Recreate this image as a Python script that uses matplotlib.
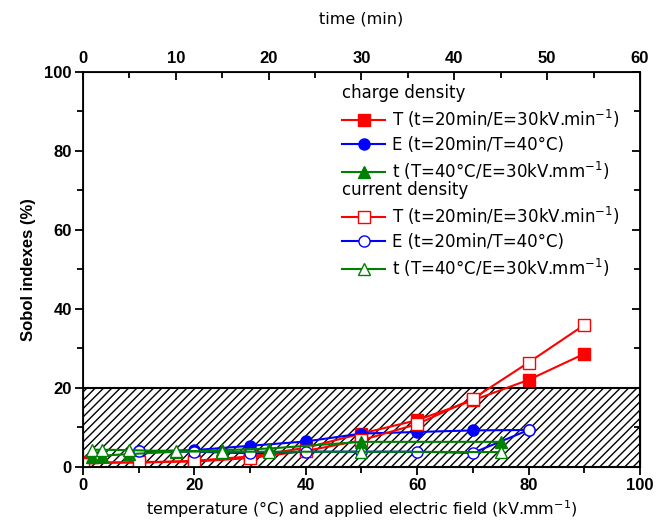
import numpy as np
import matplotlib
matplotlib.use('Agg')
import matplotlib.pyplot as plt
from matplotlib.ticker import MultipleLocator

# temperature / electric field series (bottom axis)
temp_x = [0, 10, 20, 30, 40, 50, 60, 70, 80, 90]
charge_T = [1.2, 1.0, 1.5, 2.6, 4.8, 8.4, 11.8, 16.8, 22.0, 28.6]
current_T = [0.8, 1.2, 1.3, 2.2, 4.0, 6.7, 10.8, 17.2, 26.4, 35.9]

field_x = [10, 20, 30, 40, 50, 60, 70, 80]
charge_E = [3.9, 4.2, 5.3, 6.4, 8.4, 8.8, 9.2, 9.3]
current_E = [4.0, 3.8, 3.4, 3.8, 3.8, 3.8, 3.5, 9.3]

# time series (top axis, minutes)
time_x = [1, 2, 5, 10, 15, 20, 30, 45]
charge_t = [2.5, 2.8, 3.2, 3.8, 4.2, 4.6, 6.3, 6.3]
current_t = [4.3, 4.3, 4.2, 3.9, 3.8, 3.8, 3.8, 3.7]

lbl_T = 'T (t=20min/E=30kV.min$^{-1}$)'
lbl_E = 'E (t=20min/T=40°C)'
lbl_t = 't (T=40°C/E=30kV.mm$^{-1}$)'

tick_font = {'family': 'Liberation Sans', 'weight': 'bold', 'size': 12}
plt.rcParams['hatch.linewidth'] = 1.0

fig = plt.figure(figsize=(6.67, 5.27), dpi=100)
ax = fig.add_axes([0.1244, 0.1144, 0.8351, 0.749])

# hatched band below 20 %
ax.axhspan(0, 20, facecolor='none', edgecolor='black', hatch='////', linewidth=1.5, zorder=0.5)

ms = 8
lw = 1.5
h1, = ax.plot(temp_x, charge_T, '-s', color='red', lw=lw, ms=ms, label=lbl_T)
h2, = ax.plot(field_x, charge_E, '-o', color='blue', lw=lw, ms=ms, label=lbl_E)
h4, = ax.plot(temp_x, current_T, '-s', color='red', lw=lw, ms=ms, mfc='white', label=lbl_T)
h5, = ax.plot(field_x, current_E, '-o', color='blue', lw=lw, ms=ms, mfc='white', label=lbl_E)

ax.set_xlim(0, 100)
ax.set_ylim(0, 100)
ax.xaxis.set_major_locator(MultipleLocator(20))
ax.xaxis.set_minor_locator(MultipleLocator(10))
ax.yaxis.set_major_locator(MultipleLocator(20))
ax.yaxis.set_minor_locator(MultipleLocator(10))
ax.tick_params(which='both', direction='out', width=1.3, top=False, right=False)
ax.tick_params(which='major', length=6, pad=2)
ax.tick_params(which='minor', length=4)
for lab in ax.get_xticklabels() + ax.get_yticklabels():
    lab.set_fontproperties(tick_font)
for sp in ax.spines.values():
    sp.set_linewidth(1.3)

ax.set_xlabel('temperature (°C) and applied electric field (kV.mm$^{-1}$)',
              family='DejaVu Sans', fontsize=11.5, labelpad=4)
ax.set_ylabel('Sobol indexes (%)', family='Liberation Sans', weight='bold', fontsize=12, labelpad=6)

# top axis for time
ax2 = ax.twiny()
h3, = ax2.plot(time_x, charge_t, '-^', color='green', lw=lw, ms=ms + 1, label=lbl_t)
h6, = ax2.plot(time_x, current_t, '-^', color='green', lw=lw, ms=ms + 1, mfc='white', label=lbl_t)
ax2.set_xlim(0, 60)
ax2.xaxis.set_major_locator(MultipleLocator(10))
ax2.xaxis.set_minor_locator(MultipleLocator(5))
ax2.tick_params(which='both', direction='in', width=1.3)
ax2.tick_params(which='major', length=6, pad=4)
ax2.tick_params(which='minor', length=4)
for lab in ax2.get_xticklabels():
    lab.set_fontproperties(tick_font)
ax2.set_xlabel('time (min)', family='DejaVu Sans', fontsize=11.5, labelpad=20)

# right side ticks pointing inward
axr = ax.secondary_yaxis('right')
axr.yaxis.set_major_locator(MultipleLocator(20))
axr.yaxis.set_minor_locator(MultipleLocator(10))
axr.tick_params(which='both', direction='in', width=1.3, labelright=False)
axr.tick_params(which='major', length=6)
axr.tick_params(which='minor', length=4)

prop = {'family': 'DejaVu Sans', 'size': 12}
leg1 = ax2.legend(handles=[h1, h2, h3], title='charge density', loc='upper left',
                  bbox_to_anchor=(0.45, 0.99), frameon=False, prop=prop,
                  title_fontproperties=prop, alignment='left', handlelength=2.6,
                  handletextpad=0.4, borderpad=0, labelspacing=0.35)
ax2.add_artist(leg1)
ax2.legend(handles=[h4, h5, h6], title='current density', loc='upper left',
           bbox_to_anchor=(0.45, 0.745), frameon=False, prop=prop,
           title_fontproperties=prop, alignment='left', handlelength=2.6,
           handletextpad=0.4, borderpad=0, labelspacing=0.35)

fig.savefig('out.png', dpi=100)
